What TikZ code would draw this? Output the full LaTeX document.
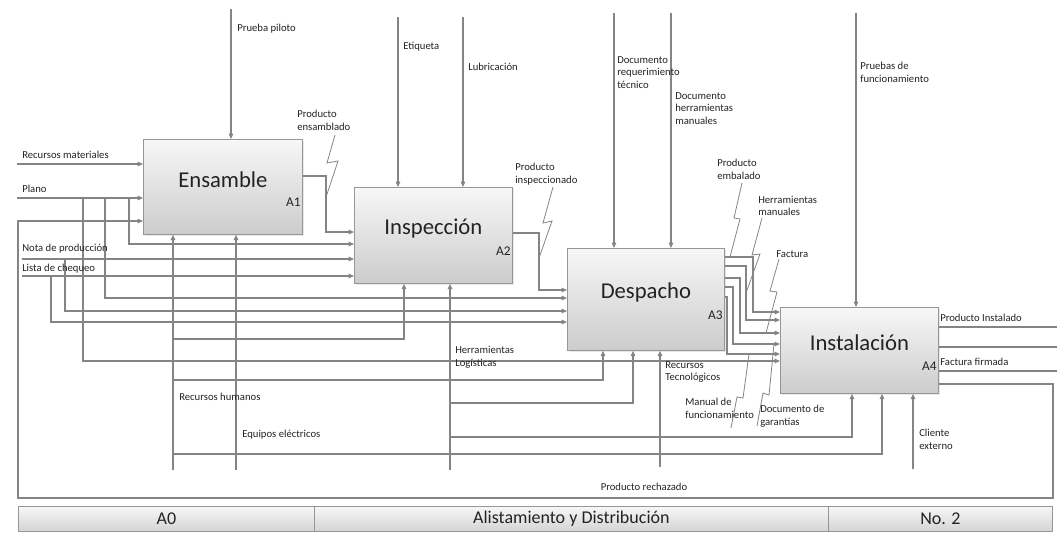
\documentclass[tikz,border=0pt]{standalone}
\usepackage{fontspec}
\setmainfont{Carlito}
\usetikzlibrary{arrows.meta,shadows}
\definecolor{ln}{RGB}{132,132,132}
\definecolor{txt}{RGB}{35,35,35}
\definecolor{btop}{RGB}{247,247,247}
\definecolor{bbot}{RGB}{204,204,204}
\definecolor{bdr}{RGB}{150,150,150}
\tikzset{
  conn/.style={draw=ln, line width=0.9pt},
  arr/.style={conn, -{Triangle[length=4pt,width=3.4pt]}},
  zig/.style={draw=ln, line width=0.6pt},
  lbl/.style={font=\fontsize{8}{9.5}\selectfont, text=txt, anchor=west, inner sep=0pt, align=left},
  proc/.style={draw=bdr, line width=0.6pt, top color=btop, bottom color=bbot, anchor=north west, inner sep=0pt,
    drop shadow={opacity=0.18, shadow xshift=1pt, shadow yshift=-1pt}},
  ttl/.style={font=\fontsize{17}{20}\selectfont, text=txt},
  num/.style={font=\fontsize{10}{12}\selectfont, text=txt, anchor=east, inner sep=0pt},
  barcell/.style={draw=bdr, line width=0.6pt, top color=btop, bottom color=bbot!85!white, anchor=north west, inner sep=0pt,
    minimum height=18.75pt, font=\fontsize{13.5}{15}\selectfont, text=txt}
}
\begin{document}
\begin{tikzpicture}[x=0.75pt,y=-0.75pt]
\useasboundingbox (0,0) rectangle (1057,533);

% process boxes
\node[proc, minimum width=119.25pt, minimum height=71.25pt] (A1) at (143,139) {};
\node[proc, minimum width=118.5pt, minimum height=72pt] (A2) at (354,187) {};
\node[proc, minimum width=117.75pt, minimum height=76.5pt] (A3) at (567,248) {};
\node[proc, minimum width=118.5pt, minimum height=64.5pt] (A4) at (780,307) {};

\node[ttl] (t1) at ([yshift=5.5pt]A1.center) {Ensamble};
\node[ttl] (t2) at ([yshift=5.5pt]A2.center) {Inspección};
\node[ttl] (t3) at ([yshift=5.5pt]A3.center) {Despacho};
\node[ttl] (t4) at ([yshift=5.5pt]A4.center) {Instalación};

\node[num] (n1) at ([xshift=-1.5pt,yshift=-11.6pt]A1.east) {A1};
\node[num] (n2) at ([xshift=-1.5pt,yshift=-11.6pt]A2.east) {A2};
\node[num] (n3) at ([xshift=-1.5pt,yshift=-11.6pt]A3.east) {A3};
\node[num] (n4) at ([xshift=-1.5pt,yshift=-11.6pt]A4.east) {A4};

% ---- inputs
\draw[arr] (17,164) -- (A1.west |- 0,164);
\draw[arr] (17,198) -- (A1.west |- 0,198);
\draw[arr] (129,198) |- (A2.west |- 0,244);
\draw[arr] (105,198) |- (A3.west |- 0,298);
\draw[arr] (83,198) |- (A4.west |- 0,361);
\draw[arr] (22,259) -- (A2.west |- 0,259);
\draw[arr] (65,259) |- (A3.west |- 0,311);
\draw[arr] (22,276) -- (A2.west |- 0,276);
\draw[arr] (51,276) |- (A3.west |- 0,322);

% ---- outputs between activities
\draw[arr] (A1.east |- 0,176) -| (326,232) -- (A2.west |- 0,232);
\draw[arr] (A2.east |- 0,233) -| (539,290) -- (A3.west |- 0,290);
\draw[arr] (A3.east |- 0,257) -| (753,312) -- (A4.west |- 0,312);
\draw[arr] (A3.east |- 0,266) -| (746,320) -- (A4.west |- 0,320);
\draw[arr] (A3.east |- 0,278) -| (740,333) -- (A4.west |- 0,333);
\draw[arr] (A3.east |- 0,287) -| (733,344) -- (A4.west |- 0,344);
\draw[arr] (A3.east |- 0,297) -| (727,354) -- (A4.west |- 0,354);

% ---- A4 outputs and feedback
\draw[conn] (A4.east |- 0,327) -- (1057,327);
\draw[conn] (A4.east |- 0,347) -- (1057,347);
\draw[conn] (A4.east |- 0,371) -- (1057,371);
\draw[arr] (A4.east |- 0,384) -- (1053,384) -- (1053,498) -- (18,498) -- (18,221) -- (A1.west |- 0,221);

% ---- controls
\draw[arr] (231,9) -- (A1.north -| 231,0);
\draw[arr] (398,17) -- (A2.north -| 398,0);
\draw[arr] (463,17) -- (A2.north -| 463,0);
\draw[arr] (614,13) -- (A3.north -| 614,0);
\draw[arr] (671,13) -- (A3.north -| 671,0);
\draw[arr] (856,13) -- (A4.north -| 856,0);

% ---- mechanisms
\draw[arr] (173,470) -- (A1.south -| 173,0);
\draw[arr] (236,470) -- (A1.south -| 236,0);
\draw[arr] (173,339) -| (A2.south -| 404,0);
\draw[arr] (173,380) -| (A3.south -| 603,0);
\draw[arr] (173,454) -| (A4.south -| 882,0);
\draw[arr] (450,470) -- (A2.south -| 450,0);
\draw[arr] (450,403) -| (A3.south -| 633,0);
\draw[arr] (450,437) -| (A4.south -| 852,0);
\draw[arr] (660,467) -- (A3.south -| 660,0);
\draw[arr] (913,469) -- (A4.south -| 913,0);

% ---- squiggles
\draw[zig] (335,135) -- (327,163) -- (338,161) -- (326,197);
\draw[zig] (553,187) -- (543,223) -- (552,221) -- (539,258);
\draw[zig] (742,183) -- (734,218) -- (740,219) -- (730,257);
\draw[zig] (762,218) -- (752,255) -- (760,254) -- (746,293);
\draw[zig] (779,259) -- (770,291) -- (777,292) -- (766,333);
\draw[zig] (757,426) -- (763,393) -- (769,395) -- (774,344);
\draw[zig] (731,428) -- (737,397) -- (743,398) -- (749,354);

% ---- labels
\node[lbl] (l1) at (22,155) {Recursos materiales};
\node[lbl] (l2) at (22,189) {Plano};
\node[lbl] (l3) at (22,249) {Nota de producción};
\node[lbl] (l4) at (22,269) {Lista de chequeo};
\node[lbl] (l5) at (237,29) {Prueba piloto};
\node[lbl] (l6) at (403,47) {Etiqueta};
\node[lbl] (l7) at (468,67) {Lubricación};
\node[lbl] (l8) at (297,120.5) {Producto\\ensamblado};
\node[lbl] (l9) at (515,174) {Producto\\inspeccionado};
\node[lbl] (l10) at (617,72.5) {Documento\\requerimiento\\técnico};
\node[lbl] (l11) at (675,108.5) {Documento\\herramientas\\manuales};
\node[lbl] (l12) at (860,72.5) {Pruebas de\\funcionamiento};
\node[lbl] (l13) at (717,169) {Producto\\embalado};
\node[lbl] (l14) at (758,206) {Herramientas\\manuales};
\node[lbl] (l15) at (776,254) {Factura};
\node[lbl] (l16) at (940,318) {Producto Instalado};
\node[lbl] (l17) at (940,362) {Factura firmada};
\node[lbl] (l18) at (919,439.5) {Cliente\\externo};
\node[lbl] (l19) at (760,416) {Documento de\\garantías};
\node[lbl] (l20) at (685,408.5) {Manual de\\funcionamiento};
\node[lbl] (l21) at (665,372) {Recursos\\Tecnológicos};
\node[lbl] (l22) at (455,357) {Herramientas\\Logísticas};
\node[lbl] (l23) at (179,397) {Recursos humanos};
\node[lbl] (l24) at (242,435) {Equipos eléctricos};
\node[lbl, anchor=center] (l25) at (644,487) {Producto rechazado};

% ---- title bar
\node[barcell, minimum width=222pt] (c1) at (18,506) {A0};
\node[barcell, minimum width=385.5pt] (c2) at (314,506) {Alistamiento y Distribución};
\node[barcell, minimum width=168pt] (c3) at (828,506) {No. 2};
\end{tikzpicture}
\end{document}
